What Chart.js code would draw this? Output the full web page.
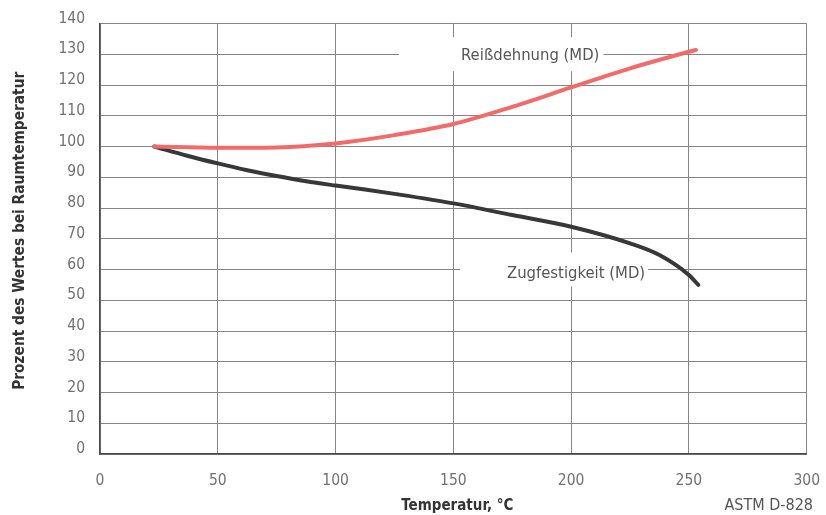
<!DOCTYPE html>
<html>
<head>
<meta charset="utf-8">
<script src="https://cdn.jsdelivr.net/npm/chart.js@4/dist/chart.umd.min.js"></script>
<style>
  html, body { margin: 0; padding: 0; background: #ffffff; }
  canvas { display: block; }
</style>
</head>
<body>
<canvas id="chart" width="826" height="515"></canvas>
<script>
// Temperature axis (°C) and percentage axis ticks
const xTickValues = [0, 50, 100, 150, 200, 250, 300];
const yTickValues = [0, 10, 20, 30, 40, 50, 60, 70, 80, 90, 100, 110, 120, 130, 140];

// Reißdehnung (MD): elongation at break, % of room-temperature value
const reissTemps  = [23, 50, 75, 100, 125, 150, 175, 200, 225, 250, 253];
const reissValues = [100, 99.6, 99.7, 101.0, 103.7, 107.3, 112.9, 119.2, 125.4, 130.8, 131.4];

// Zugfestigkeit (MD): tensile strength, % of room-temperature value
const zugTemps  = [23, 37, 50, 62.5, 75, 87.5, 100, 112.5, 125, 150, 175, 200, 225, 237.5, 250, 254];
const zugValues = [100, 97.0, 94.5, 92.3, 90.4, 88.7, 87.3, 86.0, 84.6, 81.5, 77.7, 73.9, 68.5, 64.7, 58.2, 55.0];

const seriesNames = ['Reißdehnung (MD)', 'Zugfestigkeit (MD)'];
const xTitle = 'Temperatur, °C';
const yTitle = 'Prozent des Wertes bei Raumtemperatur';
const sourceNote = 'ASTM D-828';

const NARROW = '"Liberation Sans Narrow", "DejaVu Sans Condensed", "Arial Narrow", sans-serif';

const toPoints = (xs, ys) => xs.map((t, i) => ({ x: t, y: ys[i] }));

// Curve names sit on the grid with a white gap cut around them
const curveLabels = [
  { text: seriesNames[0], t: 212, v: 130, padLeft: 62, padRight: 4, baseline: 6 },
  { text: seriesNames[1], t: 231.4, v: 60, padLeft: 47, padRight: 3, baseline: 8 }
];

const textPlugin = {
  id: 'chartTexts',
  beforeDatasetsDraw(chart) {
    const { ctx, scales: { x, y } } = chart;
    ctx.save();
    ctx.font = '16.5px ' + NARROW;
    curveLabels.forEach(l => {
      const right = x.getPixelForValue(l.t);
      const cy = y.getPixelForValue(l.v);
      const w = ctx.measureText(l.text).width;
      ctx.fillStyle = '#ffffff';
      ctx.fillRect(right - w - l.padLeft, cy - 17, w + l.padLeft + l.padRight, 34);
    });
    ctx.restore();
  },
  afterDatasetsDraw(chart) {
    const { ctx, scales: { x, y }, chartArea } = chart;
    ctx.save();
    ctx.font = '16.5px ' + NARROW;
    ctx.fillStyle = '#555555';
    ctx.textAlign = 'right';
    ctx.textBaseline = 'alphabetic';
    curveLabels.forEach(l => {
      ctx.fillText(l.text, x.getPixelForValue(l.t), y.getPixelForValue(l.v) + l.baseline);
    });

    // axis titles
    ctx.fillStyle = '#333333';
    ctx.font = 'bold 15px ' + NARROW;
    ctx.textAlign = 'center';
    ctx.textBaseline = 'middle';
    ctx.fillText(xTitle, (chartArea.left + chartArea.right) / 2 + 4, 506);
    ctx.save();
    ctx.translate(20, (chartArea.top + chartArea.bottom) / 2 - 8);
    ctx.rotate(-Math.PI / 2);
    ctx.font = 'bold 15.3px ' + NARROW;
    ctx.fillText(yTitle, 0, 0);
    ctx.restore();

    // source note
    ctx.font = '16px ' + NARROW;
    ctx.fillStyle = '#555555';
    ctx.textAlign = 'right';
    ctx.fillText(sourceNote, 813, 506);
    ctx.restore();
  }
};

new Chart(document.getElementById('chart'), {
  type: 'scatter',
  data: {
    datasets: [
      {
        label: seriesNames[0],
        data: toPoints(reissTemps, reissValues),
        showLine: true,
        borderColor: '#f26b6b',
        borderWidth: 4,
        pointRadius: 0,
        cubicInterpolationMode: 'monotone',
        borderCapStyle: 'round'
      },
      {
        label: seriesNames[1],
        data: toPoints(zugTemps, zugValues),
        showLine: true,
        borderColor: '#383838',
        borderWidth: 4,
        pointRadius: 0,
        cubicInterpolationMode: 'monotone',
        borderCapStyle: 'round'
      }
    ]
  },
  options: {
    responsive: false,
    animation: false,
    layout: { padding: { top: 23.5, right: 19.3, left: 0, bottom: 0 } },
    plugins: {
      legend: { display: false },
      tooltip: { enabled: false }
    },
    scales: {
      x: {
        type: 'linear',
        min: 0, max: 300,
        afterBuildTicks: s => { s.ticks = xTickValues.map(v => ({ value: v })); },
        afterFit: s => { s.height = 61; s.paddingLeft = 0; s.paddingRight = 0; },
        grid: { color: '#858585', lineWidth: 1, drawTicks: false },
        border: { color: '#4a4a4a', width: 1.5 },
        ticks: {
          color: '#707070',
          font: { family: NARROW, size: 15.5 },
          padding: 18,
          maxRotation: 0
        }
      },
      y: {
        type: 'linear',
        min: 0, max: 140,
        afterBuildTicks: s => { s.ticks = yTickValues.map(v => ({ value: v })); },
        afterFit: s => { s.width = 100; s.paddingTop = 0; s.paddingBottom = 0; },
        grid: { color: '#858585', lineWidth: 1, drawTicks: false },
        border: { color: '#4a4a4a', width: 1.5 },
        ticks: {
          color: '#707070',
          font: { family: NARROW, size: 15.5 },
          padding: 15,
          labelOffset: -5
        }
      }
    }
  },
  plugins: [textPlugin]
});
</script>
</body>
</html>
